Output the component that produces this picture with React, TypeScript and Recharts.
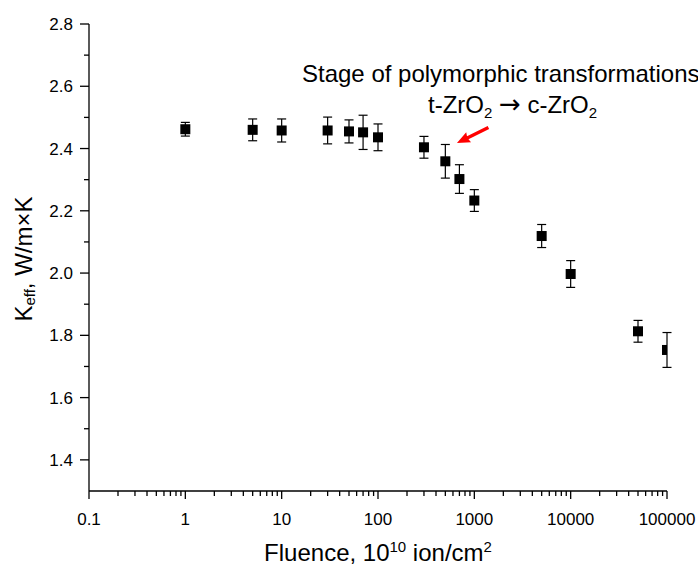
import React from 'react';
import { ScatterChart, Scatter, XAxis, YAxis, ErrorBar, ReferenceDot } from 'recharts';

// fluence (10^10 ion/cm^2), effective thermal conductivity and its error
const fluence = [1, 5, 10, 30, 50, 70, 100, 300, 500, 700, 1000, 5000, 10000, 50000, 100000];
const keff = [2.462, 2.46, 2.458, 2.458, 2.455, 2.452, 2.436, 2.404, 2.359, 2.302, 2.233, 2.119, 1.997, 1.813, 1.753];
const keffErr = [0.022, 0.035, 0.037, 0.043, 0.037, 0.055, 0.043, 0.035, 0.054, 0.046, 0.035, 0.037, 0.043, 0.035, 0.056];

const majorX = [0.1, 1, 10, 100, 1000, 10000, 100000];
const minorSteps = [2, 3, 4, 5, 6, 7, 8, 9];
const majorY = [1.4, 1.6, 1.8, 2.0, 2.2, 2.4, 2.6, 2.8];
const minorY = [1.5, 1.7, 1.9, 2.1, 2.3, 2.5, 2.7];

// where the red arrow points
const arrowTip = { x: 660, y: 2.418 };

const FONT = '"Liberation Sans", Arial, sans-serif';

const data = fluence.map((f, i) => ({ fluence: f, keff: keff[i], err: keffErr[i] }));

const minorX = majorX.slice(0, -1).flatMap(m => minorSteps.map(k => m * k));
const xTicks = [...majorX, ...minorX];
const yTicks = [...majorY, ...minorY];

const XTick = (props: any) => {
  const { x, y, payload } = props;
  const major = majorX.includes(payload.value);
  return (
    <g>
      <line x1={x} x2={x} y1={y} y2={y + (major ? 8 : 5)} stroke="#000" strokeWidth={1.3} />
      {major && (
        <text x={x} y={y + 34} textAnchor="middle" fontSize={17} fontFamily={FONT} fill="#000">
          {String(payload.value)}
        </text>
      )}
    </g>
  );
};

const YTick = (props: any) => {
  const { x, y, payload } = props;
  const major = majorY.includes(payload.value);
  return (
    <g>
      <line x1={x} x2={x - (major ? 9 : 5)} y1={y} y2={y} stroke="#000" strokeWidth={1.3} />
      {major && (
        <text x={x - 16} y={y} dy="0.36em" textAnchor="end" fontSize={17} fontFamily={FONT} fill="#000">
          {payload.value.toFixed(1)}
        </text>
      )}
    </g>
  );
};

const SquareDot = (props: any) => {
  const { cx, cy } = props;
  return <rect x={cx - 5} y={cy - 5} width={10} height={10} fill="#000" />;
};

const Arrow = (props: any) => {
  const { cx, cy } = props;
  return (
    <g transform={`translate(${cx},${cy}) rotate(154)`}>
      <polygon points="0,0 -13,-5.5 -12,-1.7 -35,-1.7 -35,1.7 -12,1.7 -13,5.5" fill="#ff0000" />
    </g>
  );
};

export default function App() {
  return (
    <div style={{ position: 'absolute', left: 0, top: 0, width: 698, height: 572, background: '#fff' }}>
      <ScatterChart width={698} height={572} margin={{ top: 24, right: 31, left: 0, bottom: 0 }}>
        <XAxis
          dataKey="fluence"
          type="number"
          scale="log"
          domain={[0.1, 100000]}
          ticks={xTicks}
          interval={0}
          height={81}
          tickSize={0}
          tickMargin={0}
          tickLine={false}
          axisLine={{ stroke: '#000', strokeWidth: 1.3 }}
          tick={<XTick />}
          allowDataOverflow
        />
        <YAxis
          dataKey="keff"
          type="number"
          domain={[1.3, 2.8]}
          ticks={yTicks}
          interval={0}
          width={89}
          tickSize={0}
          tickMargin={0}
          tickLine={false}
          axisLine={{ stroke: '#000', strokeWidth: 1.3 }}
          tick={<YTick />}
          allowDataOverflow
        />
        <Scatter data={data} fill="#000" shape={<SquareDot />} isAnimationActive={false}>
          <ErrorBar dataKey="err" direction="y" width={4.5} stroke="#000" strokeWidth={1.2} isAnimationActive={false} />
        </Scatter>
        <ReferenceDot x={arrowTip.x} y={arrowTip.y} shape={<Arrow />} />
      </ScatterChart>
      <svg
        width={698}
        height={572}
        style={{ position: 'absolute', left: 0, top: 0, pointerEvents: 'none' }}
        fontFamily={FONT}
        fill="#000"
      >
        <text x={302} y={82} fontSize={24}>Stage of polymorphic transformations</text>
        <text x={428} y={113} fontSize={24}>
          t-ZrO<tspan fontSize={15} dy={5}>2</tspan>
          <tspan dy={-5}> </tspan>
          <tspan fontFamily='"DejaVu Sans", sans-serif' fontSize={26}>{'\u2192'}</tspan>
          <tspan> c-ZrO</tspan>
          <tspan fontSize={15} dy={5}>2</tspan>
        </text>
        <text x={378} y={561} fontSize={24} textAnchor="middle">
          Fluence, 10<tspan fontSize={15} dy={-9}>10</tspan>
          <tspan dy={9}> ion/cm</tspan>
          <tspan fontSize={15} dy={-9}>2</tspan>
        </text>
        <text transform="translate(32,259) rotate(-90)" fontSize={24} textAnchor="middle">
          K<tspan fontSize={15} dy={3}>eff</tspan>
          <tspan dy={-3}>, W/m{'\u00d7'}K</tspan>
        </text>
      </svg>
    </div>
  );
}
